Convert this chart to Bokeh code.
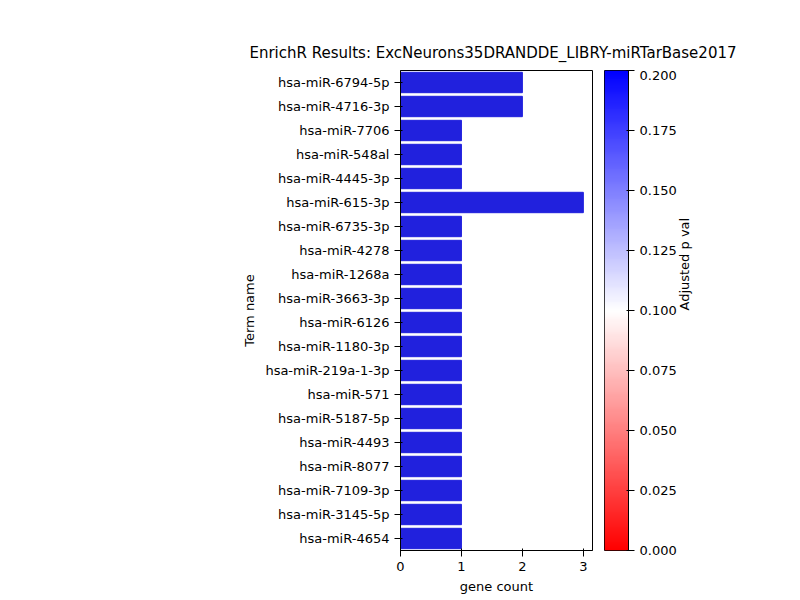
import math
from bokeh.layouts import row, column
from bokeh.models import LinearColorMapper, FactorRange, Range1d, LinearAxis, FixedTicker, Div
from bokeh.plotting import figure
from bokeh.embed import file_html
from bokeh.resources import INLINE
import numpy as np

terms = ["hsa-miR-6794-5p", "hsa-miR-4716-3p", "hsa-miR-7706", "hsa-miR-548al",
         "hsa-miR-4445-3p", "hsa-miR-615-3p", "hsa-miR-6735-3p", "hsa-miR-4278",
         "hsa-miR-1268a", "hsa-miR-3663-3p", "hsa-miR-6126", "hsa-miR-1180-3p",
         "hsa-miR-219a-1-3p", "hsa-miR-571", "hsa-miR-5187-5p", "hsa-miR-4493",
         "hsa-miR-8077", "hsa-miR-7109-3p", "hsa-miR-3145-5p", "hsa-miR-4654"]
counts = [2, 2, 1, 1, 1, 3, 1, 1, 1, 1, 1, 1, 1, 1, 1, 1, 1, 1, 1, 1]
bar_color = "#2121dd"
title_text = "EnrichR Results: ExcNeurons35DRANDDE_LIBRY-miRTarBase2017"

FONT = "DejaVu Sans"

# red -> white -> blue colormap
pal = []
for t in np.linspace(0, 1, 256):
    if t < 0.5:
        s = t / 0.5
        r, g, b = 255, int(255 * s), int(255 * s)
    else:
        s = (t - 0.5) / 0.5
        r, g, b = int(255 * (1 - s)), int(255 * (1 - s)), 255
    pal.append("#%02x%02x%02x" % (r, g, b))


def style_axis(ax):
    ax.axis_label_text_font = FONT
    ax.axis_label_text_font_style = "normal"
    ax.axis_label_text_font_size = "13px"
    ax.axis_label_text_color = "black"
    ax.major_label_text_font = FONT
    ax.major_label_text_font_size = "13px"
    ax.major_label_text_color = "black"
    ax.minor_tick_line_color = None
    ax.axis_line_color = "black"
    ax.major_tick_line_color = "black"


title = Div(text=title_text, width=784, height=60,
            styles={"font-family": FONT, "font-size": "15px", "text-align": "center",
                    "padding-left": "192px", "padding-top": "38px", "box-sizing": "border-box",
                    "white-space": "nowrap", "color": "black"})

p = figure(output_backend="svg", toolbar_location=None,
           y_range=FactorRange(*terms[::-1], range_padding=0.0),
           x_range=Range1d(0, 3.15),
           frame_width=192, frame_height=480,
           min_border_left=400, min_border_right=12,
           min_border_top=0, min_border_bottom=52)
p.hbar(y=terms, right=counts, height=0.85, color=bar_color)
p.xaxis.axis_label = "gene count"
p.yaxis.axis_label = "Term name"
p.xaxis.ticker = FixedTicker(ticks=[0, 1, 2, 3])
style_axis(p.xaxis)
style_axis(p.yaxis)
p.grid.grid_line_color = None
p.outline_line_color = "black"

cb = figure(output_backend="svg", toolbar_location=None,
            x_range=Range1d(0, 1), y_range=Range1d(0, 0.2),
            frame_width=24, frame_height=480,
            min_border_left=0, min_border_right=160,
            min_border_top=0, min_border_bottom=52,
            x_axis_type=None, y_axis_type=None)
mapper = LinearColorMapper(palette=pal, low=0, high=0.2)
cb.image(image=[np.linspace(0, 0.2, 256).reshape(256, 1)], x=0, y=0, dw=1, dh=0.2,
         color_mapper=mapper)
ax = LinearAxis(ticker=FixedTicker(ticks=[0, 0.025, 0.05, 0.075, 0.1, 0.125, 0.15, 0.175, 0.2]),
                axis_label="Adjusted p val")
style_axis(ax)
ax.axis_label_orientation = math.pi / 2
ax.major_label_overrides = {0: "0.000", 0.025: "0.025", 0.05: "0.050", 0.075: "0.075",
                            0.1: "0.100", 0.125: "0.125", 0.15: "0.150", 0.175: "0.175", 0.2: "0.200"}
cb.add_layout(ax, "right")
cb.grid.grid_line_color = None
cb.outline_line_color = "black"

layout = column(title, row(p, cb, spacing=0), spacing=0)
open("out.html", "w").write(file_html(layout, INLINE))
